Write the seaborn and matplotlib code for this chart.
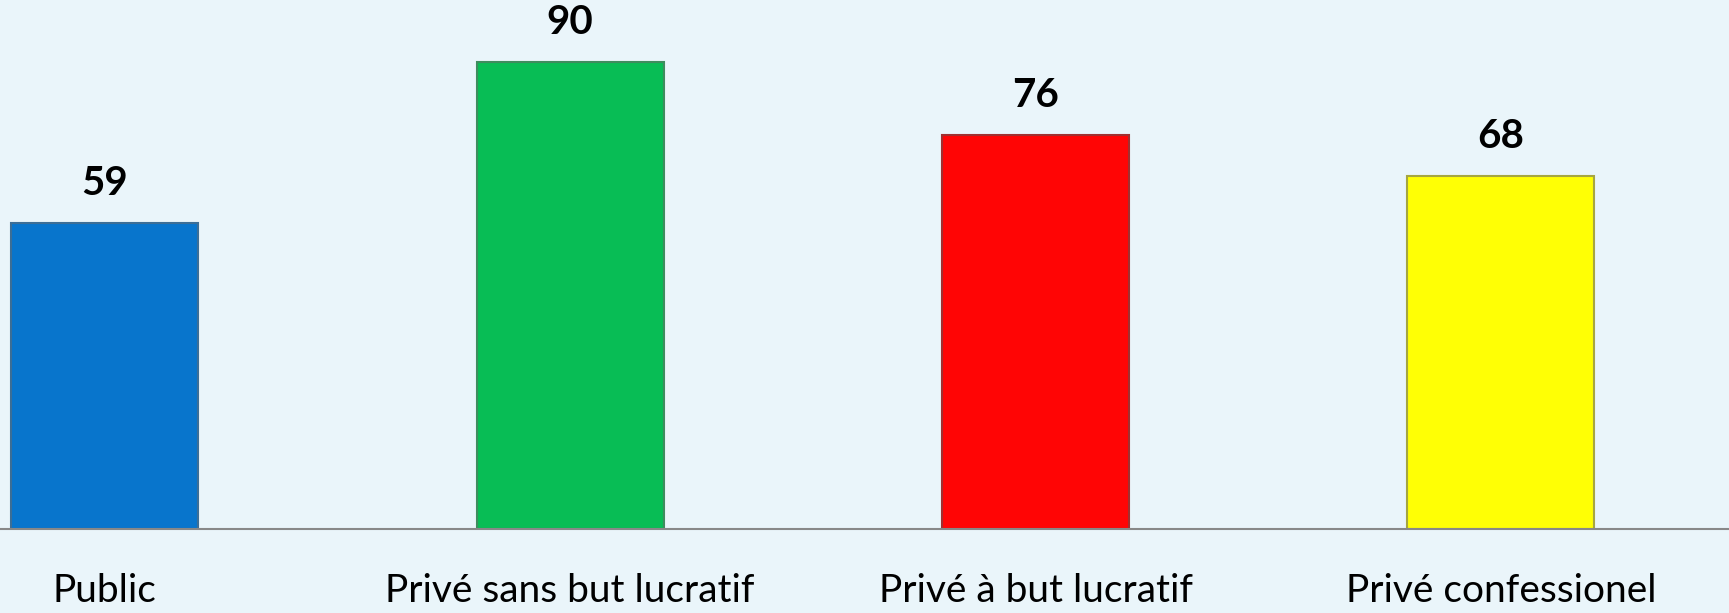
import pandas as pd
import seaborn as sns
import matplotlib.pyplot as plt

# data
categories = ['Public', 'Privé sans but lucratif', 'Privé à but lucratif', 'Privé confessionel']
values = [59, 90, 76, 68]
bar_colors = ['#0875CC', '#08BD55', '#FF0505', '#FFFF05']
edge_colors = ['#3C6E96', '#3F8C5E', '#A03030', '#A6A640']

bg = '#EAF5FA'

df = pd.DataFrame({'cat': categories, 'val': values})

sns.set_style('white')
plt.rcParams['font.family'] = ['Lato', 'DejaVu Sans']

fig = plt.figure(figsize=(17.29, 6.13), dpi=100, facecolor=bg)
ax = fig.add_axes([0, 84 / 613, 1, 1 - 84 / 613])
ax.set_facecolor(bg)

sns.barplot(data=df, x='cat', y='val', hue='cat', palette=bar_colors,
            width=0.402, legend=False, ax=ax, saturation=1)

for patch, ec in zip(ax.patches, edge_colors):
    patch.set_edgecolor(ec)
    patch.set_linewidth(1.5)

for cont in ax.containers:
    ax.bar_label(cont, padding=15, fontsize=29, fontweight='bold', color='black')

ax.set_ylim(0, 102)
ax.set_xlim(-0.225, 3.49)
ax.set_xlabel('')
ax.set_ylabel('')
ax.set_yticks([])
ax.tick_params(axis='x', length=0, pad=32, labelsize=28, labelcolor='black')

for s in ['top', 'left', 'right']:
    ax.spines[s].set_visible(False)
ax.spines['bottom'].set_color('#888888')
ax.spines['bottom'].set_linewidth(1.5)

fig.savefig('out.png', dpi=100, facecolor=bg)
